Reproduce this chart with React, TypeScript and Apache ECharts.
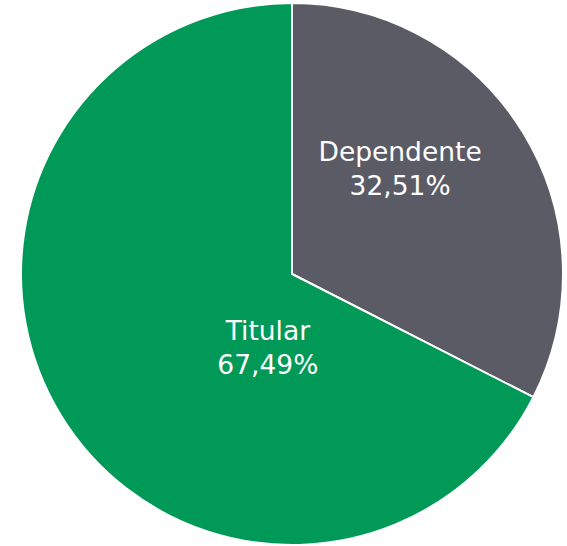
import React, { useEffect, useRef } from "react";
import * as echarts from "echarts";

const categories = ["Dependente", "Titular"];
const values = [32.51, 67.49];
const colors = ["#5b5b66", "#009957"];
const labelOffsets: [number, number][] = [[-10, -33], [94, 1]];

export default function App() {
  const ref = useRef<HTMLDivElement>(null);
  useEffect(() => {
    const chart = echarts.init(ref.current!, null, { renderer: "svg" });
    chart.setOption({
      animation: false,
      series: [
        {
          type: "pie",
          center: [292, 274],
          radius: [0, 271],
          startAngle: 90,
          clockwise: true,
          data: categories.map((c, i) => ({
            name: c,
            value: values[i],
            itemStyle: { color: colors[i] },
            label: { offset: labelOffsets[i] },
          })),
          itemStyle: { borderColor: "#ffffff", borderWidth: 2 },
          label: {
            show: true,
            position: "inside",
            color: "#ffffff",
            fontFamily: "DejaVu Sans",
            fontSize: 26.5,
            lineHeight: 34,
            formatter: (p: any) => `${p.name}\n${p.value.toFixed(2).replace(".", ",")}%`,
          },
          labelLine: { show: false },
        },
      ],
    });
    return () => chart.dispose();
  }, []);
  return (
    <div
      ref={ref}
      style={{ position: "absolute", left: 0, top: 0, width: 567, height: 546 }}
    />
  );
}
